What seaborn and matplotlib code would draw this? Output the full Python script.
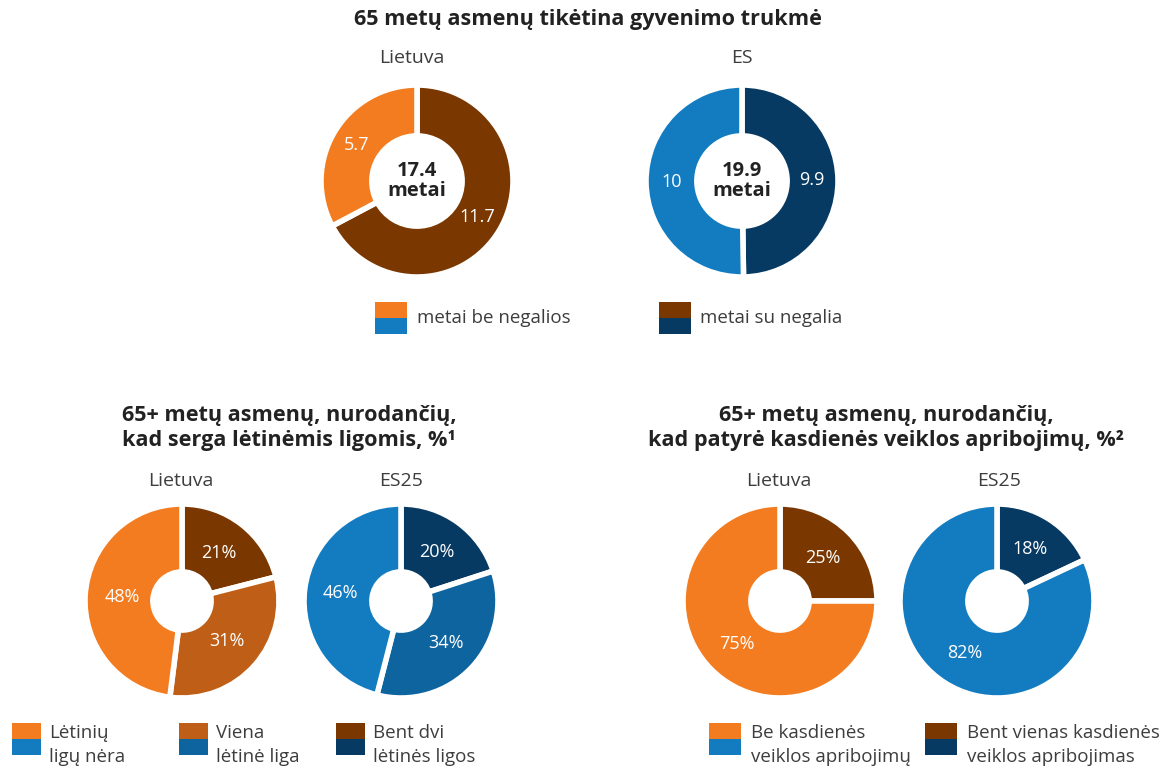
import matplotlib.pyplot as plt
import seaborn as sns
from matplotlib.patches import Rectangle

# --- data ---
life_groups = ["Lietuva", "ES"]
life_totals = ["17.4", "19.9"]
life_lt = [11.7, 5.7]   # su negalia, be negalios
life_es = [9.9, 10]
life_lt_txt = ["11.7", "5.7"]
life_es_txt = ["9.9", "10"]
life_legend = ["metai be negalios", "metai su negalia"]

chronic_groups = ["Lietuva", "ES25"]
chronic_lt = [21, 31, 48]   # bent dvi, viena, nera
chronic_es = [20, 34, 46]
chronic_legend = ["Lėtinių\nligų nėra", "Viena\nlėtinė liga", "Bent dvi\nlėtinės ligos"]

activity_groups = ["Lietuva", "ES25"]
activity_lt = [25, 75]   # bent vienas, be
activity_es = [18, 82]
activity_legend = ["Be kasdienės\nveiklos apribojimų", "Bent vienas kasdienės\nveiklos apribojimas"]

# colours
orange, brown_mid, brown = "#F47C20", "#BF5F17", "#7A3800"
blue, blue_mid, navy = "#137CC1", "#0E649E", "#073A63"

sns.set_theme(style="white")
plt.rcParams['font.family'] = ['Open Sans', 'DejaVu Sans']
TXT = "#3d3d3d"
DARK = "#222222"

W, H = 1168, 770
fig = plt.figure(figsize=(W / 100, H / 100), dpi=100)


def fx(x):
    return x / W


def fy(y):
    return 1 - y / H


def donut(cx, cy, r, values, colors, labels, hole, pctdist, center=None):
    ax = fig.add_axes([fx(cx - r), fy(cy + r), 2 * r / W, 2 * r / H])
    wedges, _, autotexts = ax.pie(values, colors=colors, startangle=90, counterclock=False,
                                  autopct='%d', pctdistance=pctdist,
                                  wedgeprops=dict(width=1 - hole, edgecolor="white", linewidth=4))
    for t, lab in zip(autotexts, labels):
        t.set_text(lab)
        t.set_color("white")
        t.set_fontsize(13)
    ax.set_xlim(-1, 1)
    ax.set_ylim(-1, 1)
    ax.axis("off")
    if center:
        ax.text(0, 0, center, ha="center", va="center", fontsize=14.5,
                fontweight="bold", color=DARK, linespacing=1.0)
    return ax


def swatch(x, y, w, h, top, bottom):
    fig.add_artist(Rectangle((fx(x), fy(y + h / 2)), w / W, h / 2 / H,
                             transform=fig.transFigure, color=top, lw=0))
    fig.add_artist(Rectangle((fx(x), fy(y + h)), w / W, h / 2 / H,
                             transform=fig.transFigure, color=bottom, lw=0))


# --- top: life expectancy ---
fig.text(fx(588), fy(20), "65 metų asmenų tikėtina gyvenimo trukmė", ha="center", va="center",
         fontsize=15.6, fontweight="bold", color=DARK)
fig.text(fx(412), fy(58), life_groups[0], ha="center", va="center", fontsize=14, color=TXT)
fig.text(fx(742), fy(58), life_groups[1], ha="center", va="center", fontsize=14, color=TXT)

donut(417, 181, 96, life_lt, [brown, orange], life_lt_txt, 0.47, 0.73,
      center=f"{life_totals[0]}\nmetai")
donut(742, 181, 96, life_es, [navy, blue], life_es_txt, 0.47, 0.73,
      center=f"{life_totals[1]}\nmetai")

swatch(375, 302, 32, 32, orange, blue)
fig.text(fx(417), fy(318), life_legend[0], ha="left", va="center", fontsize=13.5, color=TXT)
swatch(659, 302, 32, 32, brown, navy)
fig.text(fx(700), fy(318), life_legend[1], ha="left", va="center", fontsize=13.5, color=TXT)

# --- bottom left: chronic illnesses ---
fig.text(fx(289), fy(428), "65+ metų asmenų, nurodančių,\nkad serga lėtinėmis ligomis, %¹",
         ha="center", va="center", fontsize=15.6, fontweight="bold", color=DARK, linespacing=1.2)
fig.text(fx(181), fy(481), chronic_groups[0], ha="center", va="center", fontsize=14, color=TXT)
fig.text(fx(401), fy(481), chronic_groups[1], ha="center", va="center", fontsize=14, color=TXT)

donut(182, 601, 97, chronic_lt, [brown, brown_mid, orange],
      [f"{v}%" for v in chronic_lt], 0.3, 0.62)
donut(401, 601, 97, chronic_es, [navy, blue_mid, blue],
      [f"{v}%" for v in chronic_es], 0.3, 0.63)

leg_x = [12, 179, 336]
tops = [orange, brown_mid, brown]
bottoms = [blue, blue_mid, navy]
for x, lab, t, b in zip(leg_x, chronic_legend, tops, bottoms):
    swatch(x, 723, 29, 32, t, b)
    fig.text(fx(x + 37), fy(745), lab, ha="left", va="center", fontsize=13.5,
             color=TXT, linespacing=1.4)

# --- bottom right: daily activity limitations ---
fig.text(fx(886), fy(428), "65+ metų asmenų, nurodančių,\nkad patyrė kasdienės veiklos apribojimų, %²",
         ha="center", va="center", fontsize=15.6, fontweight="bold", color=DARK, linespacing=1.2)
fig.text(fx(779), fy(481), activity_groups[0], ha="center", va="center", fontsize=14, color=TXT)
fig.text(fx(999), fy(481), activity_groups[1], ha="center", va="center", fontsize=14, color=TXT)

donut(780, 601, 97, activity_lt, [brown, orange],
      [f"{v}%" for v in activity_lt], 0.3, 0.63)
donut(997, 601, 97, activity_es, [navy, blue],
      [f"{v}%" for v in activity_es], 0.3, 0.63)

for x, lab, t, b in zip([709, 925], activity_legend, [orange, brown], [blue, navy]):
    swatch(x, 723, 32, 32, t, b)
    fig.text(fx(x + 42), fy(745), lab, ha="left", va="center", fontsize=13.5,
             color=TXT, linespacing=1.4)

fig.savefig("out.png", dpi=100, facecolor="white")
